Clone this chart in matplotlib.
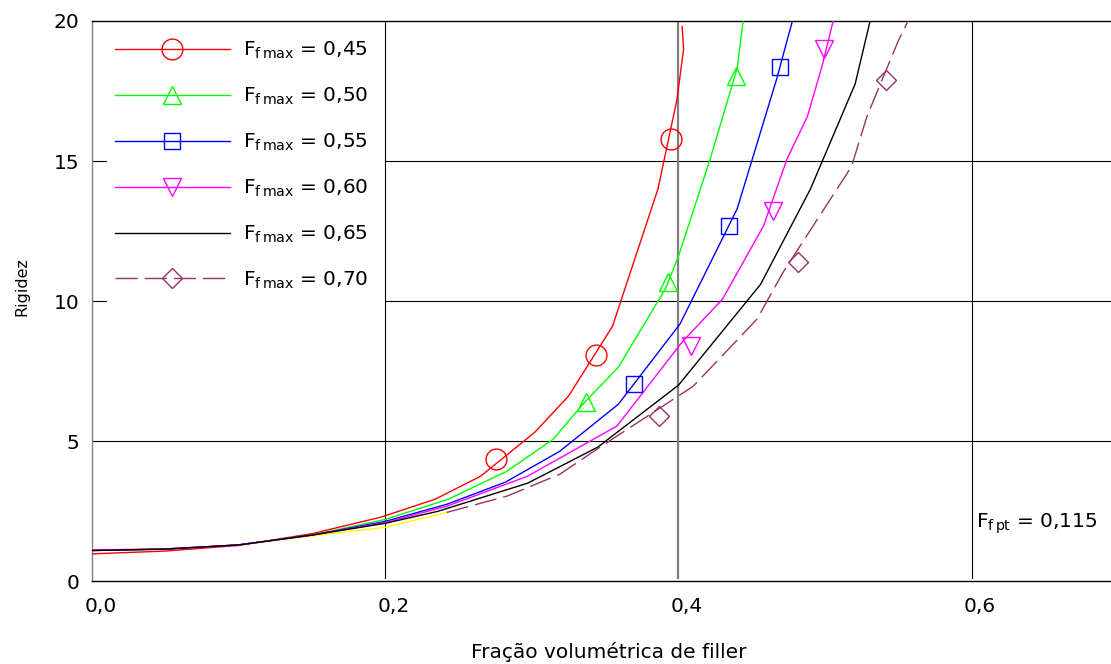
import numpy as np
import matplotlib
matplotlib.use("Agg")
import matplotlib.pyplot as plt
from matplotlib.lines import Line2D
from matplotlib.patches import Rectangle
from matplotlib.transforms import ScaledTranslation

plt.rcParams['font.family'] = ['DejaVu Sans']

# ---- curvas de rigidez (vértices das linhas) ----
x_045 = [0.0, 0.05, 0.10, 0.15, 0.197, 0.234, 0.265, 0.302, 0.325, 0.355, 0.386, 0.399, 0.4035, 0.4025]
y_045 = [0.98, 1.08, 1.28, 1.70, 2.29, 2.93, 3.75, 5.32, 6.61, 9.10, 14.0, 17.2, 19.0, 19.8]

x_050 = [0.0, 0.05, 0.10, 0.15, 0.20, 0.243, 0.283, 0.3145, 0.336, 0.359, 0.391, 0.400, 0.4216, 0.440, 0.444]
y_050 = [1.10, 1.15, 1.30, 1.65, 2.21, 2.93, 3.93, 5.07, 6.39, 7.64, 10.43, 11.6, 15.07, 18.3, 19.96]

x_055 = [0.0, 0.05, 0.10, 0.15, 0.20, 0.242, 0.282, 0.319, 0.359, 0.401, 0.440, 0.451, 0.467, 0.4775]
y_055 = [1.10, 1.15, 1.30, 1.65, 2.14, 2.75, 3.54, 4.64, 6.32, 9.18, 13.29, 15.18, 17.93, 19.96]

x_060 = [0.0, 0.05, 0.10, 0.15, 0.20, 0.242, 0.297, 0.358, 0.4025, 0.430, 0.458, 0.474, 0.488, 0.498, 0.5055]
y_060 = [1.12, 1.16, 1.30, 1.65, 2.10, 2.68, 3.75, 5.54, 8.54, 10.07, 12.68, 15.07, 16.6, 18.4, 20.0]

x_065 = [0.0, 0.05, 0.10, 0.15, 0.20, 0.236, 0.297, 0.345, 0.400, 0.456, 0.490, 0.5205, 0.5307]
y_065 = [1.10, 1.15, 1.30, 1.65, 2.07, 2.50, 3.50, 4.79, 7.00, 10.6, 14.0, 17.75, 20.0]

x_070 = [0.242, 0.283, 0.319, 0.3465, 0.410, 0.4536, 0.471, 0.518, 0.5286, 0.550, 0.5566]
y_070 = [2.46, 3.04, 3.82, 4.79, 6.96, 9.36, 11.0, 14.8, 16.6, 19.3, 20.0]

# trecho inicial em amarelo
x_ini = [0.0, 0.05, 0.10, 0.15, 0.20, 0.242]
y_ini = [1.10, 1.15, 1.30, 1.62, 1.93, 2.46]

# ---- pontos marcados ----
mx_045 = [0.2756, 0.344, 0.395]
my_045 = [4.36, 8.07, 15.8]
mx_050 = [0.337, 0.393, 0.439]
my_050 = [6.39, 10.68, 18.04]
mx_055 = [0.370, 0.4345, 0.469]
my_055 = [7.04, 12.68, 18.36]
mx_060 = [0.4086, 0.4645, 0.4993]
my_060 = [8.39, 13.2, 19.0]
mx_070 = [0.3868, 0.4816, 0.5416]
my_070 = [5.89, 11.39, 17.9]

labels = ['0,45', '0,50', '0,55', '0,60', '0,65', '0,70']
x_ticks = [0.0, 0.2, 0.4, 0.6]
x_ticklabels = ['0,0', '0,2', '0,4', '0,6']
y_ticks = [0, 5, 10, 15, 20]

purple = '#993366'
series = [
    (x_045, y_045, mx_045, my_045, 'red', 'o', 15),
    (x_050, y_050, mx_050, my_050, '#00ff00', '^', 13),
    (x_055, y_055, mx_055, my_055, 'blue', 's', 11.5),
    (x_060, y_060, mx_060, my_060, 'magenta', 'v', 13),
    (x_065, y_065, [], [], 'black', None, 0),
    (x_070, y_070, mx_070, my_070, purple, 'D', 10.5),
]

fs = 14.5

fig = plt.figure(figsize=(11.11, 6.64), dpi=100)
ax = fig.add_axes([0.0828, 0.1245, 0.9172, 0.8440])
ax.set_xlim(0, 0.695)
ax.set_ylim(0, 20)

# grade manual
for yv in [5, 10, 15]:
    ax.axhline(yv, color='black', lw=0.8, zorder=1)
ax.add_patch(Rectangle((0.0102, 9.7), 0.2 - 0.0102, 10.3, facecolor='white',
                       edgecolor='none', zorder=1.5))
ax.axvline(0.2, ymin=0.006, color='black', lw=0.8, zorder=2)
ax.axvline(0.4, ymin=0.006, color='#808080', lw=1.6, zorder=2)
ax.axvline(0.6, ymin=0.006, color='black', lw=0.8, zorder=2)

ax.plot(x_ini, y_ini, color='yellow', lw=1.0, zorder=2.5)

handles = []
for xs, ys, mxs, mys, c, m, ms in series:
    ls = (0, (16, 5)) if c == purple else '-'
    ax.plot(xs, ys, color=c, lw=1.0, linestyle=ls, zorder=3)
    if m is not None:
        ax.plot(mxs, mys, linestyle='none', marker=m, markersize=ms,
                markerfacecolor='none', markeredgecolor=c, markeredgewidth=1.0, zorder=4)
    handles.append(Line2D([], [], color=c, lw=1.0, linestyle=ls, marker=m,
                          markersize=ms, markerfacecolor='none',
                          markeredgecolor=c, markeredgewidth=1.0))

leg_labels = [r'F$_{\mathregular{f\,max}}$ = ' + s for s in labels]
ax.legend(handles, leg_labels, loc='upper left', bbox_to_anchor=(0.0147, 0.980),
          frameon=False, fontsize=fs, handlelength=5.7, handletextpad=0.65,
          labelspacing=1.22, numpoints=1, borderaxespad=0)

ax.text(0.603, 2.04, r'F$_{\mathregular{f\,pt}}$ = 0,115', fontsize=fs,
        ha='left', va='center', zorder=5)

ax.set_xticks(x_ticks)
ax.set_xticklabels(x_ticklabels)
ax.set_yticks(y_ticks)
ax.tick_params(axis='both', length=0, labelsize=fs)
ax.tick_params(axis='x', pad=11)
ax.tick_params(axis='y', pad=9)
for lbl in ax.get_xticklabels():
    lbl.set_transform(lbl.get_transform() + ScaledTranslation(6 / 72, 0, fig.dpi_scale_trans))

ax.spines['right'].set_visible(False)
ax.spines['left'].set_color('#808080')
ax.spines['left'].set_linewidth(1.0)
ax.spines['top'].set_linewidth(1.0)
ax.spines['bottom'].set_linewidth(1.0)

fig.text(22 / 1111, 1 - 287 / 664, 'Rigidez', rotation=90, fontsize=11.5,
         ha='center', va='center')
fig.text(609 / 1111, 1 - 652 / 664, 'Fração volumétrica de filler', fontsize=fs,
         ha='center', va='center')

fig.savefig('out.png', dpi=100)
